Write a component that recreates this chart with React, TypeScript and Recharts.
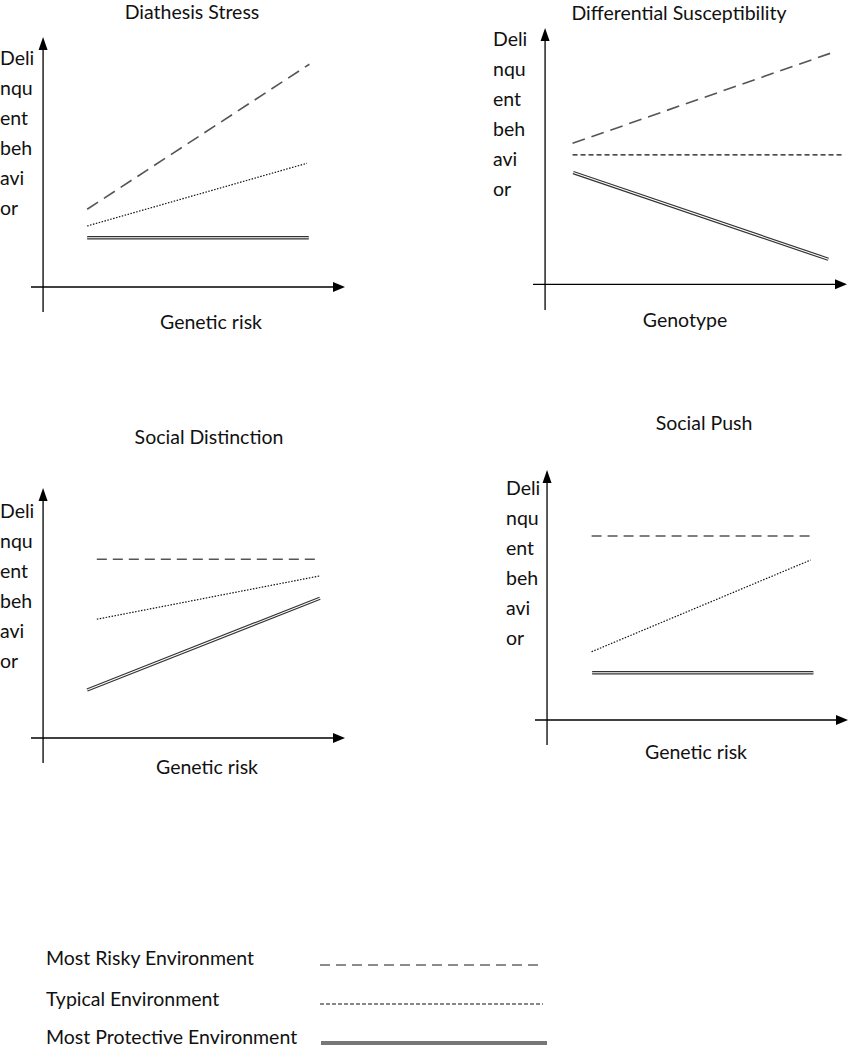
import React from "react"
import { LineChart, Line, XAxis, YAxis, ReferenceLine, ReferenceDot } from "recharts"

// y axis label is broken into short lines in the original figure
const yLabelLines = ["Deli", "nqu", "ent", "beh", "avi", "or"]

const panelTitles = ["Diathesis Stress", "Differential Susceptibility", "Social Distinction", "Social Push"]
const xLabels = ["Genetic risk", "Genotype", "Genetic risk", "Genetic risk"]

// Diathesis Stress
const dsRisky = [{ x: 1.46, y: 3.11 }, { x: 8.82, y: 8.91 }]
const dsTypical = [{ x: 1.46, y: 2.44 }, { x: 8.74, y: 4.95 }]
const dsProtective = [{ x: 1.46, y: 1.97 }, { x: 8.8, y: 1.97 }]

// Differential Susceptibility
const diffRisky = [{ x: 0.91, y: 5.5 }, { x: 9.44, y: 9.01 }]
const diffTypical = [{ x: 0.91, y: 5.05 }, { x: 9.83, y: 5.05 }]
const diffProtective = [{ x: 0.93, y: 4.36 }, { x: 9.38, y: 0.98 }]

// Social Distinction
const sdRisky = [{ x: 1.78, y: 7.15 }, { x: 9.17, y: 7.15 }]
const sdTypical = [{ x: 1.78, y: 4.75 }, { x: 9.15, y: 6.48 }]
const sdProtective = [{ x: 1.46, y: 1.92 }, { x: 9.17, y: 5.59 }]

// Social Push
const spRisky = [{ x: 1.48, y: 7.36 }, { x: 8.85, y: 7.36 }]
const spTypical = [{ x: 1.48, y: 2.73 }, { x: 8.76, y: 6.4 }]
const spProtective = [{ x: 1.5, y: 1.89 }, { x: 8.85, y: 1.89 }]

const legendLabels = ["Most Risky Environment", "Typical Environment", "Most Protective Environment"]

const FONT = "Lato, 'Open Sans', sans-serif"
const FONT_SIZE = 19.5
const X_DOMAIN: [number, number] = [-0.4, 10]
const Y_DOMAIN: [number, number] = [-1, 10]
const PAD = 10

const seriesByPanel = [
  { risky: dsRisky, typical: dsTypical, protective: dsProtective },
  { risky: diffRisky, typical: diffTypical, protective: diffProtective },
  { risky: sdRisky, typical: sdTypical, protective: sdProtective },
  { risky: spRisky, typical: spTypical, protective: spProtective },
]

// plot box of each panel (axes bounding box) and where its texts sit
const layout = [
  { left: 31, top: 37, w: 314, h: 275, title: [192, 12], xl: [211, 322], yl: [0, 43], riskDash: "13 7", typDash: "1.5 1.5" },
  { left: 533, top: 28, w: 314, h: 282, title: [679, 13], xl: [685, 320], yl: [493, 24], riskDash: "13 7", typDash: "5 3" },
  { left: 31, top: 488, w: 314, h: 275, title: [209, 437], xl: [207, 767], yl: [0, 496], riskDash: "10 6", typDash: "1.5 1.5" },
  { left: 535, top: 470, w: 313, h: 275, title: [704, 423], xl: [696, 752], yl: [506, 473], riskDash: "10 6", typDash: "1.5 1.5" },
]

function RightArrow(props: any) {
  const { cx, cy } = props
  return <polygon points={`${cx},${cy} ${cx - 12},${cy - 5} ${cx - 12},${cy + 5}`} fill="#000" />
}

function UpArrow(props: any) {
  const { cx, cy } = props
  return <polygon points={`${cx},${cy} ${cx - 4.5},${cy + 13} ${cx + 4.5},${cy + 13}`} fill="#000" />
}

function centered(x: number, y: number): React.CSSProperties {
  return {
    position: "absolute",
    left: x,
    top: y,
    transform: "translate(-50%, -50%)",
    whiteSpace: "nowrap",
    fontSize: FONT_SIZE,
    lineHeight: "20px",
    fontFamily: FONT,
    color: "#111",
  }
}

function Panel({ i }: { i: number }) {
  const l = layout[i]
  const s = seriesByPanel[i]
  return (
    <>
      <div style={centered(l.title[0], l.title[1])}>{panelTitles[i]}</div>
      <div style={centered(l.xl[0], l.xl[1])}>{xLabels[i]}</div>
      <div
        style={{
          position: "absolute",
          left: l.yl[0],
          top: l.yl[1],
          fontSize: FONT_SIZE,
          lineHeight: "30px",
          fontFamily: FONT,
          color: "#111",
        }}
      >
        {yLabelLines.map((t) => (
          <div key={t}>{t}</div>
        ))}
      </div>
      <div style={{ position: "absolute", left: l.left - PAD, top: l.top - PAD }}>
        <LineChart width={l.w + 2 * PAD} height={l.h + 2 * PAD} margin={{ top: PAD, right: PAD, bottom: PAD, left: PAD }}>
          <XAxis type="number" dataKey="x" domain={X_DOMAIN} hide />
          <YAxis type="number" dataKey="y" domain={Y_DOMAIN} hide />
          <ReferenceLine segment={[{ x: -0.4, y: 0 }, { x: 9.7, y: 0 }]} stroke="#000" strokeWidth={1.3} />
          <ReferenceLine segment={[{ x: 0, y: -1 }, { x: 0, y: 9.6 }]} stroke="#000" strokeWidth={1.3} />
          <ReferenceDot x={10} y={0} shape={RightArrow} />
          <ReferenceDot x={0} y={10} shape={UpArrow} />
          <Line data={s.risky} dataKey="y" type="linear" stroke="#555" strokeWidth={1.6} strokeDasharray={l.riskDash} dot={false} activeDot={false} isAnimationActive={false} />
          <Line data={s.typical} dataKey="y" type="linear" stroke="#111" strokeWidth={1.2} strokeDasharray={l.typDash} dot={false} activeDot={false} isAnimationActive={false} />
          <Line data={s.protective} dataKey="y" type="linear" stroke="#333" strokeWidth={3.4} dot={false} activeDot={false} isAnimationActive={false} />
          <Line data={s.protective} dataKey="y" type="linear" stroke="#fff" strokeWidth={1.1} dot={false} activeDot={false} isAnimationActive={false} />
        </LineChart>
      </div>
    </>
  )
}

export default function App() {
  const legendY = [958, 999, 1037]
  return (
    <div style={{ position: "absolute", left: 0, top: 0, width: 849, height: 1050, background: "#fff", overflow: "hidden" }}>
      {layout.map((_, i) => (
        <Panel key={i} i={i} />
      ))}
      {legendLabels.map((t, i) => (
        <div
          key={t}
          style={{
            position: "absolute",
            left: 46,
            top: legendY[i],
            transform: "translateY(-50%)",
            fontSize: FONT_SIZE,
            lineHeight: "14px",
            fontFamily: FONT,
            color: "#111",
            whiteSpace: "nowrap",
          }}
        >
          {t}
        </div>
      ))}
      <svg width={849} height={110} style={{ position: "absolute", left: 0, top: 940 }}>
        <line x1={320} x2={543} y1={25} y2={25} stroke="#666" strokeWidth={1.5} strokeDasharray="10 6" />
        <line x1={320} x2={543} y1={64} y2={64} stroke="#111" strokeWidth={1} strokeDasharray="4 2" />
        <line x1={321} x2={547} y1={103} y2={103} stroke="#777" strokeWidth={4} />
      </svg>
    </div>
  )
}
